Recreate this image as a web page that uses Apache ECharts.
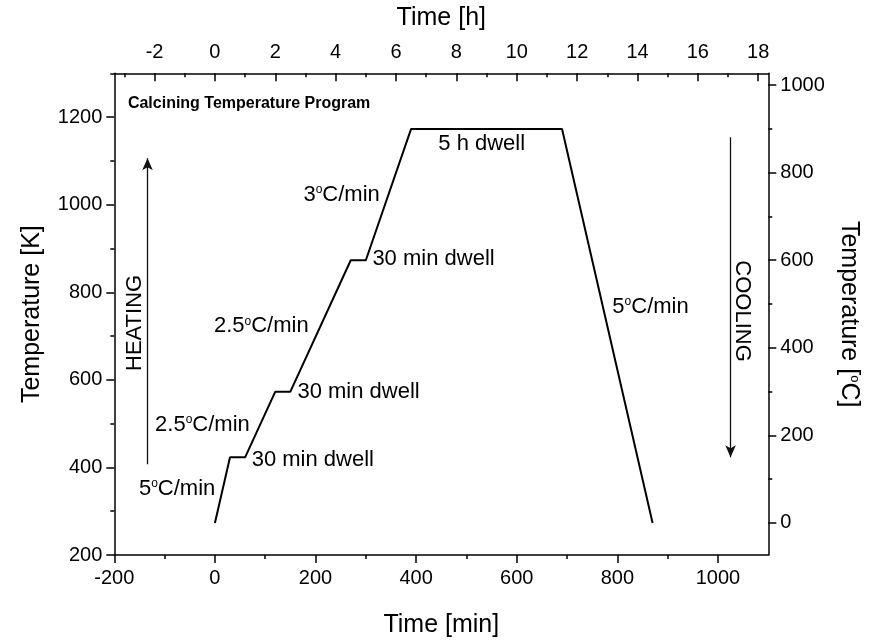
<!DOCTYPE html>
<html><head><meta charset="utf-8">
<script src="https://cdn.jsdelivr.net/npm/echarts@6/dist/echarts.min.js"></script>
<style>html,body{margin:0;padding:0;background:#fff}#c{width:874px;height:643px}</style>
</head><body><div id="c"></div>
<script>
// ---- data ----
const timeMin = [0, 30, 60, 120, 150, 270, 300, 390, 690, 870];
const tempK   = [273, 423, 423, 573, 573, 873, 873, 1173, 1173, 273];

const minTicks  = [-200, 0, 200, 400, 600, 800, 1000];
const minMinor  = [-100, 100, 300, 500, 700, 900];
const hourTicks = [-2, 0, 2, 4, 6, 8, 10, 12, 14, 16, 18];
const hourMinor = [-3, -1, 1, 3, 5, 7, 9, 11, 13, 15, 17];
const kTicks    = [200, 400, 600, 800, 1000, 1200];
const kMinor    = [300, 500, 700, 900, 1100, 1300];
const cTicks    = [0, 200, 400, 600, 800, 1000];
const cMinor    = [100, 300, 500, 700, 900];

// annotations: [text, minutes, kelvin]
const annotations = [
  ['5{s|o}C/min', -151, 352],
  ['2.5{s|o}C/min', -119, 498],
  ['30 min dwell', 73, 418],
  ['30 min dwell', 164, 572],
  ['2.5{s|o}C/min', -2, 722],
  ['30 min dwell', 313, 875],
  ['3{s|o}C/min', 176, 1023],
  ['5 h dwell', 444, 1139],
  ['5{s|o}C/min', 790, 767]
];
const titleAnno = ['Calcining Temperature Program', -173, 1230];
const heatArrow = [[-134, 407], [-134, 1106]];
const coolArrow = [[1025, 1154], [1025, 423]];
const heatText = ['HEATING', -159, 730];
const coolText = ['COOLING', 1047, 757];

const FONT = "'Liberation Sans', Arial, Helvetica, sans-serif";
const K0 = 273.15;
const AX = {color: '#000', width: 1.5};
const SUP = {fontSize: 12, lineHeight: 8, verticalAlign: 'top', padding: [0, 0, 4, 0], fontFamily: FONT, color: '#000', fill: '#000'};

function mainAxis(o) {
  return Object.assign({
    type: 'value', splitLine: {show: false}, scale: false,
    axisLine: {show: true, onZero: false, lineStyle: AX},
    nameTextStyle: {fontSize: 25, color: '#000', fontFamily: FONT, rich: {s: Object.assign({}, SUP, {fontSize: 13, lineHeight: 9})}},
    nameLocation: 'middle'
  }, o);
}
function minorAxis(o) {
  return Object.assign({
    type: 'value', splitLine: {show: false},
    axisLine: {show: false, onZero: false},
    axisLabel: {show: false}
  }, o);
}
const lab = (vals, m) => ({customValues: vals, fontSize: 20, color: '#000', fontFamily: FONT, margin: m,
  formatter: v => String(Math.round(v))});
const tick = (vals, len, inside) => ({show: true, customValues: vals, length: len, inside: !!inside, lineStyle: AX});

const chart = echarts.init(document.getElementById('c'), null, {renderer: 'canvas'});
const grid = {left: 114.3, right: 105.7, top: 73.3, bottom: 87.3, containLabel: false};

chart.setOption({
  animation: false,
  backgroundColor: '#fff',
  grid: grid,
  xAxis: [
    mainAxis({position: 'bottom', min: -200, max: 1100, name: 'Time [min]', nameGap: 58,
      axisTick: tick(minTicks, 8), axisLabel: lab(minTicks, 13)}),
    mainAxis({position: 'top', min: -200 / 60, max: 1100 / 60, name: 'Time [h]', nameGap: 43,
      axisTick: tick(hourTicks, 8, true), axisLabel: lab(hourTicks, 11)}),
    minorAxis({position: 'bottom', min: -200, max: 1100, axisTick: tick(minMinor, 4)}),
    minorAxis({position: 'top', min: -200 / 60, max: 1100 / 60, axisTick: tick(hourMinor, 4, true)})
  ],
  yAxis: [
    mainAxis({position: 'left', min: 200, max: 1300, name: 'Temperature [K]', nameGap: 70, nameRotate: 90,
      axisTick: tick(kTicks, 8), axisLabel: lab(kTicks, 12)}),
    mainAxis({position: 'right', min: 200 - K0, max: 1300 - K0, name: 'Temperature [{s|o}C]', nameGap: 68, nameRotate: -90,
      axisTick: tick(cTicks, 8), axisLabel: lab(cTicks, 12)}),
    minorAxis({position: 'left', min: 200, max: 1300, axisTick: tick(kMinor, 4)}),
    minorAxis({position: 'right', min: 200 - K0, max: 1300 - K0, axisTick: tick(cMinor, 4)})
  ],
  series: [{
    type: 'line', xAxisIndex: 0, yAxisIndex: 0,
    data: timeMin.map((t, i) => [t, tempK[i]]),
    showSymbol: false, symbol: 'none',
    lineStyle: {color: '#000', width: 2},
    markLine: {
      silent: true, symbol: ['none', 'arrow'], symbolSize: [8, 12],
      label: {show: false},
      lineStyle: {color: '#111', width: 1.3, type: 'solid'},
      data: [
        [{coord: heatArrow[0]}, {coord: heatArrow[1]}],
        [{coord: coolArrow[0]}, {coord: coolArrow[1]}]
      ]
    }
  }]
});

const px = (x, y) => chart.convertToPixel({xAxisIndex: 0, yAxisIndex: 0}, [x, y]);
const rich = {s: SUP};
const g = [];
annotations.forEach(a => {
  const p = px(a[1], a[2]);
  g.push({type: 'text', x: p[0], y: p[1], silent: true,
    style: {text: a[0], rich: rich, fontSize: 22, fontFamily: FONT, fill: '#000', textAlign: 'left', textVerticalAlign: 'middle'}});
});
(function () {
  const p = px(titleAnno[1], titleAnno[2]);
  g.push({type: 'text', x: p[0], y: p[1], silent: true,
    style: {text: titleAnno[0], fontSize: 16, fontWeight: 'bold', fontFamily: FONT, fill: '#000', textAlign: 'left', textVerticalAlign: 'middle'}});
  const h = px(heatText[1], heatText[2]);
  g.push({type: 'text', x: h[0], y: h[1], rotation: Math.PI / 2, silent: true,
    style: {text: heatText[0], fontSize: 22, fontFamily: FONT, fill: '#000', textAlign: 'center', textVerticalAlign: 'middle'}});
  const c = px(coolText[1], coolText[2]);
  g.push({type: 'text', x: c[0], y: c[1], rotation: -Math.PI / 2, silent: true,
    style: {text: coolText[0], fontSize: 22, fontFamily: FONT, fill: '#000', textAlign: 'center', textVerticalAlign: 'middle'}});
})();
chart.setOption({graphic: g});
</script>
</body></html>
